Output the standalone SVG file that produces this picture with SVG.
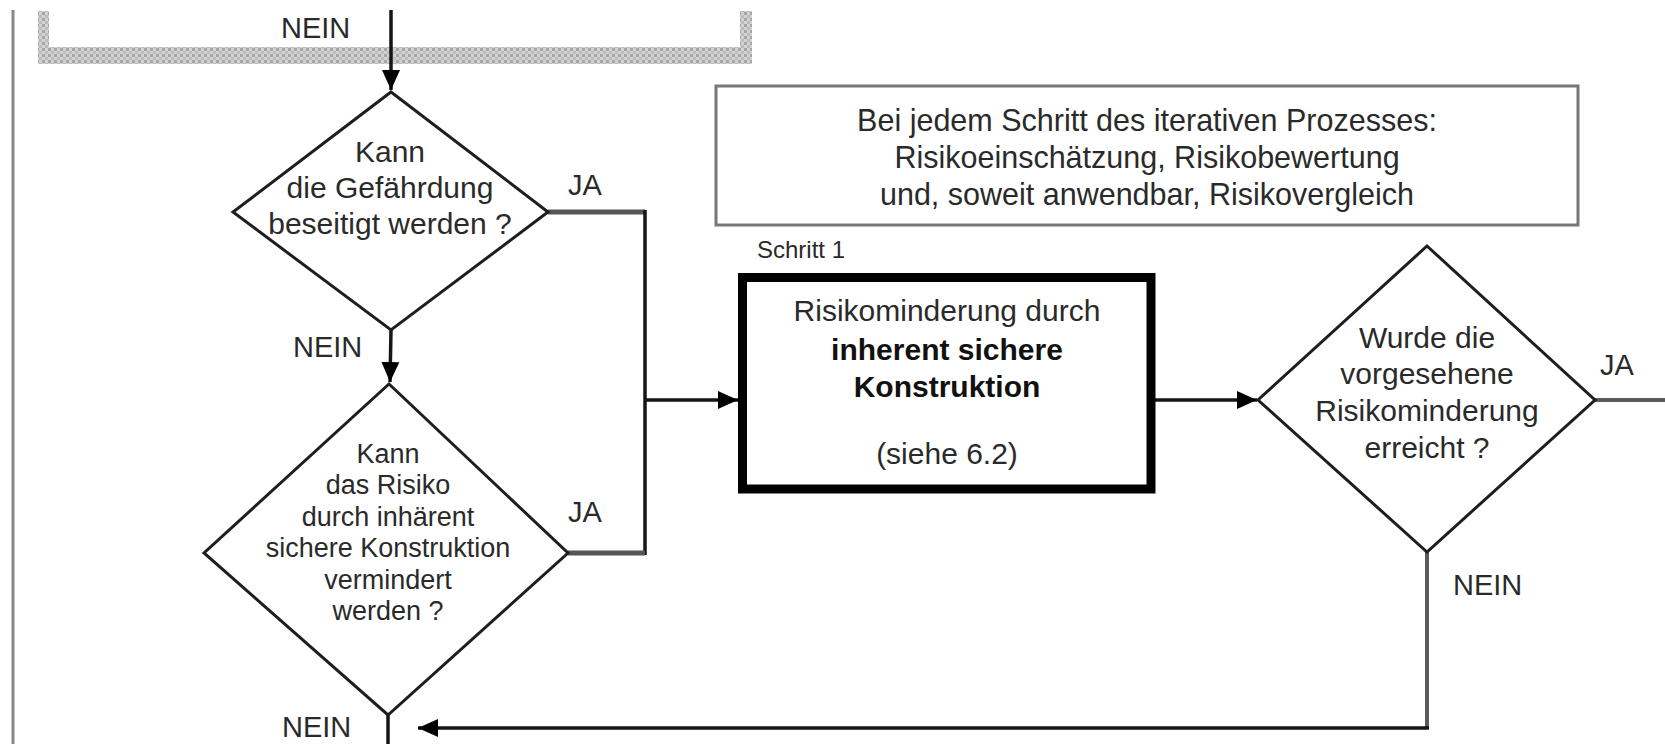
<svg xmlns="http://www.w3.org/2000/svg" width="1665" height="744" viewBox="0 0 1665 744">
  <style>
    .t { font-family: "Liberation Sans", Arial, sans-serif; fill: #2a2a2a; }
    .lbl { font-size: 29px; }
    .dt { font-size: 30px; text-anchor: middle; }
    .dt2 { font-size: 27px; text-anchor: middle; }
    .bx { font-size: 30px; text-anchor: middle; }
    .ib { font-size: 30.5px; text-anchor: middle; }
    .b { font-weight: bold; fill: #111; }
    .dia { fill: #fff; stroke: #1e1e1e; stroke-width: 3; }
    .ln { fill: none; stroke: #151515; stroke-width: 3.5; }
    .gl { fill: none; stroke: #555; stroke-width: 5; }
    .gl2 { fill: none; stroke: #5a5a5a; stroke-width: 4; }
  </style>
  <defs>
    <pattern id="hatch" width="6" height="6" patternUnits="userSpaceOnUse">
      <rect width="6" height="6" fill="#d2d2d2"/>
      <rect width="3" height="3" fill="#a6a6a6"/>
      <rect x="3" y="3" width="3" height="3" fill="#bcbcbc"/>
    </pattern>
    <marker id="arr" markerUnits="userSpaceOnUse" markerWidth="22" markerHeight="20" refX="20" refY="10" orient="auto">
      <path d="M0,1 L20,10 L0,19 Z" fill="#000"/>
    </marker>
  </defs>

  <rect width="1665" height="744" fill="#fff"/>

  <!-- left margin line -->
  <line x1="13" y1="10" x2="13" y2="744" stroke="#888" stroke-width="3"/>

  <!-- hatched frame of previous block -->
  <g id="prev-block">
    <rect x="38" y="11" width="11" height="53" fill="url(#hatch)"/>
    <rect x="740" y="11" width="12" height="53" fill="url(#hatch)"/>
    <rect x="38" y="47" width="714" height="17" fill="url(#hatch)"/>
  </g>

  <!-- connectors -->
  <g id="connectors">
    <line class="ln" x1="391" y1="10" x2="391" y2="90" marker-end="url(#arr)"/>
    <line class="ln" x1="391" y1="330" x2="390" y2="382" marker-end="url(#arr)"/>
    <polyline class="gl" points="548,212 645,212"/>
    <line class="ln" x1="645" y1="210" x2="645" y2="555"/>
    <polyline class="gl" points="568,553 645,553"/>
    <line class="ln" x1="645" y1="400" x2="738" y2="400" marker-end="url(#arr)"/>
    <line class="ln" x1="1155" y1="400" x2="1257" y2="400" marker-end="url(#arr)"/>
    <line class="gl2" x1="1595" y1="400" x2="1665" y2="400" stroke-width="3"/>
    <polyline class="gl2" points="1427,552 1427,728"/>
    <line class="ln" x1="1429" y1="728" x2="418" y2="728" marker-end="url(#arr)"/>
    <line class="ln" x1="388" y1="715" x2="388" y2="744" stroke-width="3"/>
  </g>

  <!-- labels -->
  <g id="labels">
    <text class="t lbl" x="281" y="38">NEIN</text>
    <text class="t lbl" x="293" y="357">NEIN</text>
    <text class="t lbl" x="282" y="737">NEIN</text>
    <text class="t lbl" x="568" y="195">JA</text>
    <text class="t lbl" x="568" y="522">JA</text>
    <text class="t lbl" x="1600" y="375">JA</text>
    <text class="t lbl" x="1453" y="595">NEIN</text>
  </g>

  <g id="d1">
    <polygon class="dia" points="391,92 548,212 391,330 233,212"/>
    <text class="t dt" x="390" y="162">Kann</text>
    <text class="t dt" x="390" y="198">die Gefährdung</text>
    <text class="t dt" x="390" y="234">beseitigt werden ?</text>
  </g>

  <g id="d2">
    <polygon class="dia" points="389,384 568,553 388,715 204,553"/>
    <text class="t dt2" x="388" y="463">Kann</text>
    <text class="t dt2" x="388" y="494">das Risiko</text>
    <text class="t dt2" x="388" y="526">durch inhärent</text>
    <text class="t dt2" x="388" y="557">sichere Konstruktion</text>
    <text class="t dt2" x="388" y="589">vermindert</text>
    <text class="t dt2" x="388" y="620">werden ?</text>
  </g>

  <g id="info">
    <rect x="716" y="86" width="862" height="139" fill="#fff" stroke="#777" stroke-width="3"/>
    <text class="t ib" x="1147" y="131">Bei jedem Schritt des iterativen Prozesses:</text>
    <text class="t ib" x="1147" y="168">Risikoeinschätzung, Risikobewertung</text>
    <text class="t ib" x="1147" y="205">und, soweit anwendbar, Risikovergleich</text>
  </g>

  <g id="step1">
    <text class="t" x="757" y="258" font-size="24">Schritt 1</text>
    <rect x="742.5" y="277.5" width="408.5" height="211.5" fill="#fff" stroke="#000" stroke-width="9"/>
    <text class="t bx" x="947" y="321">Risikominderung durch</text>
    <text class="t bx b" x="947" y="360">inherent sichere</text>
    <text class="t bx b" x="947" y="397">Konstruktion</text>
    <text class="t bx" x="947" y="464">(siehe 6.2)</text>
  </g>

  <g id="d3">
    <polygon class="dia" points="1427,246 1595,400 1427,552 1258,400"/>
    <text class="t dt" x="1427" y="348">Wurde die</text>
    <text class="t dt" x="1427" y="384">vorgesehene</text>
    <text class="t dt" x="1427" y="421">Risikominderung</text>
    <text class="t dt" x="1427" y="458">erreicht ?</text>
  </g>
</svg>
